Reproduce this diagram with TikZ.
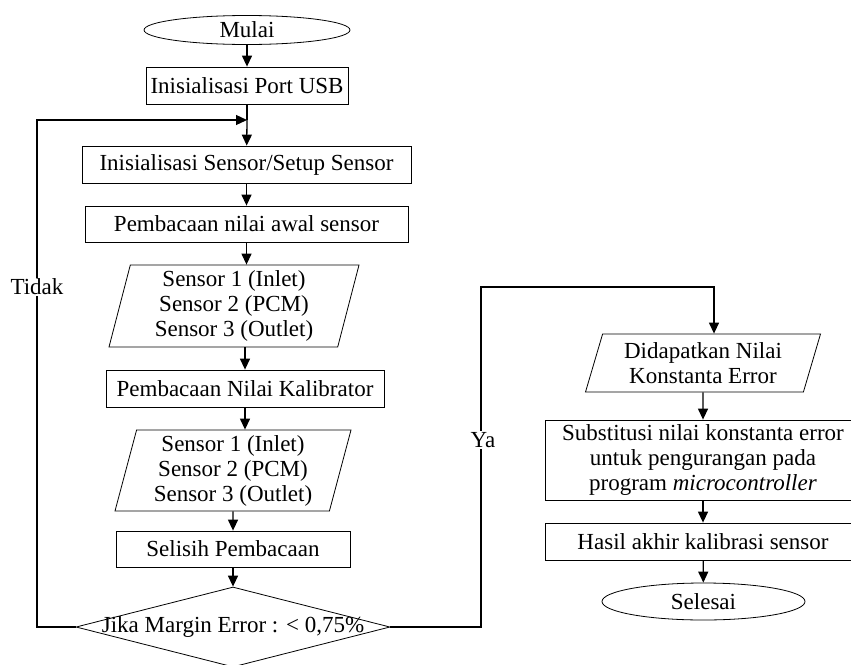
\documentclass[tikz,border=0pt]{standalone}
\usepackage{fontspec}
\setmainfont{Liberation Serif}
\usetikzlibrary{shapes.geometric, arrows.meta}

\begin{document}
\begin{tikzpicture}[x=1pt, y=-1pt,
            font=\fontsize{23}{25}\selectfont,
            box/.style={draw, line width=0.8pt, minimum height=37pt, inner sep=2pt},
            io/.style={draw, line width=0.8pt, trapezium, trapezium stretches body,
                align=center, inner sep=1pt},
            ujung/.style={draw, line width=0.8pt, ellipse, inner sep=0pt},
            cek/.style={draw, line width=0.8pt, diamond, inner sep=0pt,
                minimum width=314pt, minimum height=80pt},
            garis/.style={line width=1.3pt},
            arus/.style={garis, -{Triangle[length=11pt, width=10pt]}},
            teks/.style={fill=white, inner sep=1pt}]
        \useasboundingbox (0,0) rectangle (851,664);
        \clip (0,0) rectangle (851,664);

        \node (mulai) [ujung, minimum width=206pt, minimum height=29pt] at (247,30) {Mulai};
        \node (usb) [box, minimum width=202pt] at (247,85.5) {Inisialisasi Port USB};
        \coordinate (m) at (247,120);
        \node (init) [box, minimum width=329pt] at (246.5,164.5) {Inisialisasi Sensor/Setup Sensor};
        \node (awal) [box, minimum width=323pt, minimum height=36pt] at (246.5,224) {Pembacaan nilai awal sensor};
        \node (in1) [io, trapezium left angle=73.7, trapezium right angle=106.3,
            minimum width=250pt, minimum height=82pt] at (234,306)
            {Sensor 1 (Inlet)\\Sensor 2 (PCM)\\Sensor 3 (Outlet)};
        \node (kal) [box, minimum width=278pt] at (245,388.5) {Pembacaan Nilai Kalibrator};
        \node (in2) [io, trapezium left angle=73.5, trapezium right angle=106.5,
            minimum width=236pt, minimum height=81pt] at (233,470.5)
            {Sensor 1 (Inlet)\\Sensor 2 (PCM)\\Sensor 3 (Outlet)};
        \node (selisih) [box, minimum width=234pt, minimum height=36pt] at (233,549) {Selisih Pembacaan};
        \node (margin) [cek, label=center:{Jika Margin Error : < 0,75\%}] at (233,627) {};

        \node (konst) [io, trapezium left angle=68.4, trapezium right angle=111.6,
            minimum width=235pt, minimum height=58pt] at (703,363)
            {Didapatkan Nilai\\Konstanta Error};
        \node (subs) [box, minimum width=316pt, minimum height=80pt, align=center] at (703,460)
            {Substitusi nilai konstanta error\\untuk pengurangan pada\\program \textit{microcontroller}};
        \node (hasil) [box, minimum width=316pt] at (703,541.5) {Hasil akhir kalibrasi sensor};
        \node (selesai) [ujung, minimum width=203pt, minimum height=37pt] at (703.5,601.5) {Selesai};

        \coordinate (kiri) at (37,627);
        \coordinate (kanan) at (481,627);
        \coordinate (kanan2) at (481,287);
        \coordinate (masuk) at (714,287);

        \draw [arus] (mulai) -- (usb);
        \draw [garis] (usb) -- (m);
        \draw [arus] (m) -- (init);
        \draw [arus] (init) -- (awal);
        \draw [arus] (awal) -- (awal.south |- in1.north);
        \draw [arus] (in1.south -| kal) -- (kal);
        \draw [arus] (kal) -- (kal.south |- in2.north);
        \draw [arus] (in2) -- (selisih);
        \draw [arus] (selisih) -- (margin);
        \draw [arus] (margin.west) -- (kiri) -- (kiri |- m) -- (m);
        \draw [arus] (margin.east) -- (kanan) -- (kanan2) -- (masuk) -- (masuk |- konst.north);
        \draw [arus] (konst) -- (subs);
        \draw [arus] (subs) -- (hasil);
        \draw [arus] (hasil) -- (selesai);

        \node (tidak) [teks] at (37,287) {Tidak};
        \node (ya) [teks] at (483,440) {Ya};
    \end{tikzpicture}
\end{document}
